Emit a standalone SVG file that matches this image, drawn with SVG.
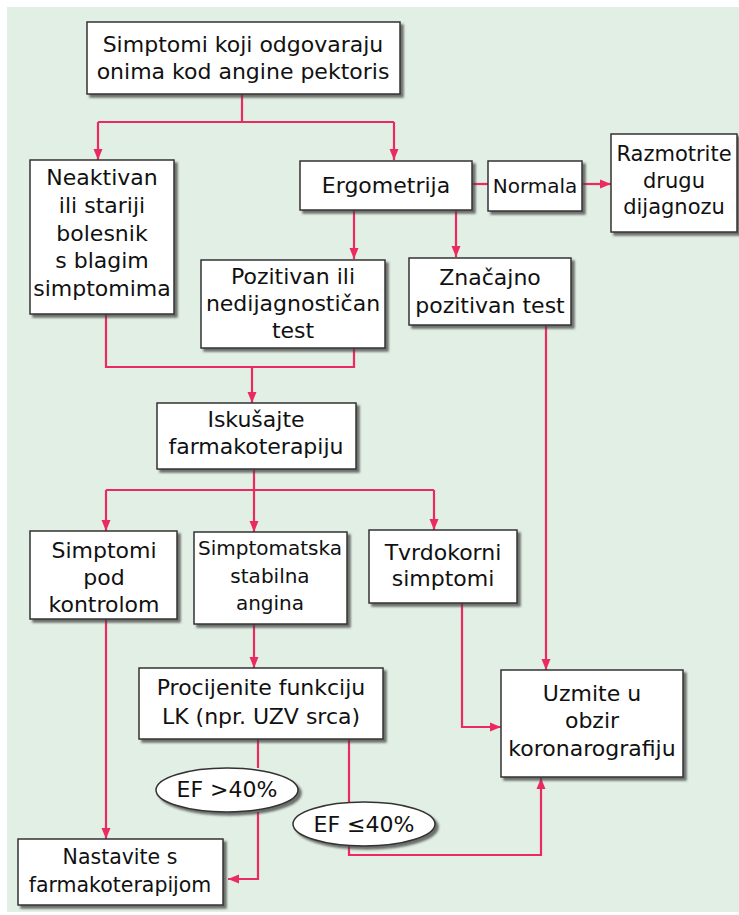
<svg xmlns="http://www.w3.org/2000/svg" width="739" height="915" viewBox="0 0 739 915">
<style>
.bg{fill:#e2efe4}
.box{fill:#fff;stroke:#333;stroke-width:1.5;filter:url(#sh)}
.t{font-family:"DejaVu Sans",Verdana,sans-serif;font-size:22px;fill:#111;text-anchor:middle}
.s{font-size:20px}
.c{fill:none;stroke:#ec2a62;stroke-width:2.2}
.a{marker-end:url(#arr)}
</style>
<defs>
<filter id="sh" x="-10%" y="-10%" width="130%" height="130%">
<feDropShadow dx="3" dy="3" stdDeviation="1.2" flood-color="#444" flood-opacity="0.75"/>
</filter>
<marker id="arr" markerUnits="userSpaceOnUse" markerWidth="12" markerHeight="10" refX="11" refY="5" orient="auto">
<path d="M0,0.5 L11,5 L0,9.5 z" fill="#ec2a62"/>
</marker>
</defs>
<rect class="bg" x="7" y="7" width="732" height="905"/>

<g id="connectors">
<path class="c" d="M242,94 V122 M98,122 H394"/>
<path class="c a" d="M98,122 V160"/>
<path class="c a" d="M394,122 V160"/>
<path class="c" d="M472,184 H488"/>
<path class="c a" d="M582,184 H611"/>
<path class="c a" d="M354,210 V259"/>
<path class="c a" d="M456,210 V257"/>
<path class="c" d="M106,314 V367 H354 V348"/>
<path class="c a" d="M252,367 V403"/>
<path class="c" d="M254,469 V490 M106,490 H434"/>
<path class="c a" d="M106,490 V531"/>
<path class="c a" d="M254,490 V532"/>
<path class="c a" d="M434,490 V530"/>
<path class="c a" d="M106,619 V839"/>
<path class="c a" d="M254,624 V668"/>
<path class="c a" d="M462,603 V727 H501"/>
<path class="c a" d="M546,325 V670"/>
<path class="c" d="M258,739 V768"/>
<path class="c a" d="M258,812 V879 H228"/>
<path class="c" d="M349,739 V802"/>
<path class="c a" d="M349,846 V855 H541 V778"/>
</g>

<g id="n1"><rect class="box" x="87" y="22" width="313" height="72"/>
<text class="t" x="243" y="52">Simptomi koji odgovaraju</text>
<text class="t" x="243" y="79">onima kod angine pektoris</text></g>

<g id="n2"><rect class="box" x="30" y="160" width="144" height="154"/>
<text class="t" x="102" y="185">Neaktivan</text>
<text class="t" x="102" y="213">ili stariji</text>
<text class="t" x="102" y="241">bolesnik</text>
<text class="t" x="102" y="268">s blagim</text>
<text class="t" x="102" y="296">simptomima</text></g>

<g id="n3"><rect class="box" x="300" y="161" width="172" height="49"/>
<text class="t" x="386" y="193">Ergometrija</text></g>

<g id="n4"><rect class="box" x="488" y="161" width="94" height="50"/>
<text class="t s" x="535" y="193">Normala</text></g>

<g id="n5"><rect class="box" x="611" y="134" width="126" height="98"/>
<text class="t" x="674" y="161" style="font-size:21px">Razmotrite</text>
<text class="t" x="674" y="188" style="font-size:21px">drugu</text>
<text class="t" x="674" y="214" style="font-size:21px">dijagnozu</text></g>

<g id="n6"><rect class="box" x="201" y="260" width="184" height="88"/>
<text class="t" x="293" y="284">Pozitivan ili</text>
<text class="t" x="293" y="311">nedijagnostičan</text>
<text class="t" x="293" y="338">test</text></g>

<g id="n7"><rect class="box" x="409" y="258" width="162" height="67"/>
<text class="t" x="490" y="285">Značajno</text>
<text class="t" x="490" y="313">pozitivan test</text></g>

<g id="n8"><rect class="box" x="157" y="403" width="199" height="66"/>
<text class="t" x="256" y="427">Iskušajte</text>
<text class="t" x="256" y="454">farmakoterapiju</text></g>

<g id="n9"><rect class="box" x="30" y="531" width="147" height="88"/>
<text class="t" x="104" y="558">Simptomi</text>
<text class="t" x="104" y="585">pod</text>
<text class="t" x="104" y="612">kontrolom</text></g>

<g id="n10"><rect class="box" x="194" y="532" width="153" height="92"/>
<text class="t s" x="270" y="555">Simptomatska</text>
<text class="t s" x="270" y="583">stabilna</text>
<text class="t s" x="270" y="610">angina</text></g>

<g id="n11"><rect class="box" x="369" y="530" width="148" height="73"/>
<text class="t" x="443" y="560">Tvrdokorni</text>
<text class="t" x="443" y="586">simptomi</text></g>

<g id="n12"><rect class="box" x="139" y="668" width="244" height="71"/>
<text class="t" x="261" y="695">Procijenite funkciju</text>
<text class="t" x="261" y="724">LK (npr. UZV srca)</text></g>

<g id="n13"><rect class="box" x="501" y="670" width="182" height="107"/>
<text class="t" x="592" y="701">Uzmite u</text>
<text class="t" x="592" y="728">obzir</text>
<text class="t" x="592" y="756">koronarografiju</text></g>

<g id="n14"><ellipse class="box" cx="227" cy="790" rx="71" ry="22"/>
<text class="t" x="227" y="797">EF &gt;40%</text></g>

<g id="n15"><ellipse class="box" cx="364" cy="824" rx="71" ry="22"/>
<text class="t" x="364" y="832">EF ≤40%</text></g>

<g id="n16"><rect class="box" x="18" y="839" width="205" height="66"/>
<text class="t" x="120" y="864" style="font-size:20.5px">Nastavite s</text>
<text class="t" x="120" y="892" style="font-size:20.5px">farmakoterapijom</text></g>
</svg>
